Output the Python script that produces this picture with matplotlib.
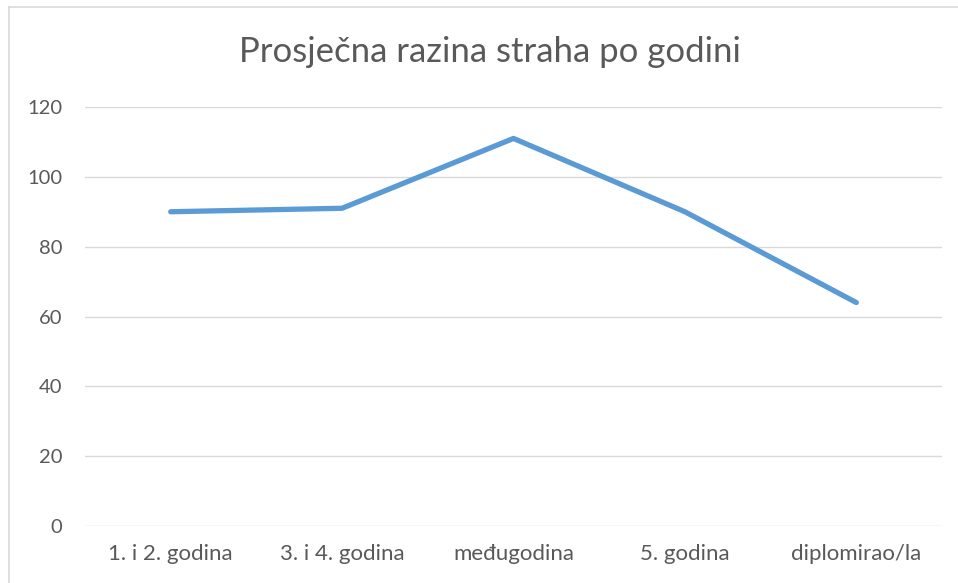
import numpy as np
from matplotlib import pyplot as plt
from matplotlib.lines import Line2D

# kategorije i prosječne vrijednosti
godine = ["1. i 2. godina", "3. i 4. godina", "međugodina", "5. godina", "diplomirao/la"]
strah = [90, 91, 111, 90, 64]
y_ticks = [0, 20, 40, 60, 80, 100, 120]

plt.rcParams['font.family'] = ['Lato', 'DejaVu Sans']

fig = plt.figure(figsize=(9.58, 5.83), dpi=100)
ax = fig.add_axes([85 / 958, 1 - 526 / 583, (942 - 85) / 958, (526 - 107) / 583])

x = np.arange(len(godine))
ax.plot(x, strah, color="#5B9BD5", linewidth=3.8, solid_capstyle="round", solid_joinstyle="round", zorder=3)

ax.set_xlim(-0.5, len(godine) - 0.5)
ax.set_ylim(0, 120)
ax.set_yticks(y_ticks)
ax.set_xticks(x, godine)
ax.grid(axis="y", color="#D9D9D9", linewidth=1)
ax.set_axisbelow(True)
for s in ax.spines.values():
    s.set_visible(False)
ax.tick_params(axis="x", length=0, labelsize=16, labelcolor="#595959", pad=13)
ax.tick_params(axis="y", length=0, labelsize=14.5, labelcolor="#595959", pad=16.5)

fig.text(490 / 958, 1 - 52 / 583, "Prosječna razina straha po godini", ha="center", va="center",
         fontsize=25, color="#595959")

# okvir grafikona (samo lijevo i gore vidljivo)
fig.add_artist(Line2D([9 / 958, 9 / 958], [0, 1 - 7 / 583], color="#D9D9D9", linewidth=1.2))
fig.add_artist(Line2D([9 / 958, 1], [1 - 7 / 583, 1 - 7 / 583], color="#D9D9D9", linewidth=1.2))

fig.savefig("out.png", dpi=100)
